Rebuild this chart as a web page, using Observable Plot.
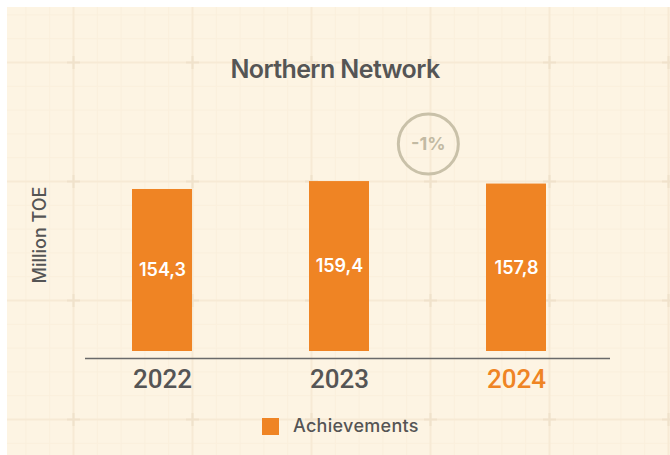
<!DOCTYPE html>
<html>
<head>
<meta charset="utf-8">
<script src="https://cdn.jsdelivr.net/npm/d3@7"></script>
<script src="https://cdn.jsdelivr.net/npm/@observablehq/plot@0.6"></script>
<style>
  html, body { margin: 0; padding: 0; background: #ffffff; }
  #wrap { position: relative; width: 670px; height: 455px; overflow: hidden; }
  #panel {
    position: absolute; left: 7px; top: 7px; right: 0; bottom: 0;
    background-color: #fdf4e3;
    background-image: url("data:image/svg+xml;utf8,<svg xmlns='http://www.w3.org/2000/svg' width='119' height='119'><g stroke='%23faefdc' stroke-width='1'><line x1='11.9' y1='0' x2='11.9' y2='119'/><line x1='35.7' y1='0' x2='35.7' y2='119'/><line x1='83.3' y1='0' x2='83.3' y2='119'/><line x1='107.1' y1='0' x2='107.1' y2='119'/><line y1='11.9' x1='0' y2='11.9' x2='119'/><line y1='35.7' x1='0' y2='35.7' x2='119'/><line y1='83.3' x1='0' y2='83.3' x2='119'/><line y1='107.1' x1='0' y2='107.1' x2='119'/></g><g stroke='%23f7ead5' stroke-width='2'><line x1='59.5' y1='0' x2='59.5' y2='119'/><line y1='59.5' x1='0' y2='59.5' x2='119'/></g><g stroke='%23f0e2cb' stroke-width='2'><line x1='53' y1='59.5' x2='66' y2='59.5'/><line x1='59.5' y1='53' x2='59.5' y2='66'/></g></svg>");
    background-position: 6.5px -4.5px;
  }
  #title {
    position: absolute; left: 0; top: 54px; width: 670px; text-align: center;
    font-family: Inter, "DejaVu Sans", sans-serif; font-weight: 600; font-size: 25px;
    line-height: 30px; color: #555555; letter-spacing: -0.6px; margin: 0;
  }
  #chart { position: absolute; left: 0; top: 0; }
  #legend {
    position: absolute; left: 262px; top: 413px; display: flex; align-items: center;
    font-family: Inter, "DejaVu Sans", sans-serif; font-weight: 500; font-size: 18px;
    color: #555555; letter-spacing: 0.3px; line-height: 26px;
  }
  #legend .sw { width: 17px; height: 17px; background: #ef8424; margin-right: 14px; }
</style>
</head>
<body>
<div id="wrap">
  <div id="panel"></div>
  <div id="chart"></div>
  <h2 id="title">Northern Network</h2>
  <div id="legend"><span class="sw"></span><span id="legendText"></span></div>
</div>
<script>
const title = "Northern Network";
const yLabel = "Million TOE";
const seriesName = "Achievements";
const years = ["2022", "2023", "2024"];
const values = [154.3, 159.4, 157.8];
const highlightYear = "2024";
const yMin = 50;

const ORANGE = "#ef8424";
const GRAY = "#555555";

const data = years.map((year, i) => ({year, value: values[i]}));
const fmt = v => v.toFixed(1).replace(".", ",");
const lastTwo = data.slice(-2);
const change = (lastTwo[1].value - lastTwo[0].value) / lastTwo[0].value * 100;
const changeLabel = (change > 0 ? "+" : "") + Math.round(change) + "%";

document.getElementById("title").textContent = title;
document.getElementById("legendText").textContent = seriesName;

const W = 670, H = 455;
const mL = 72, mR = 65, mT = 118, mB = 104;
const step = (W - mL - mR) / 3;

const chart = Plot.plot({
  width: W,
  height: H,
  marginLeft: mL,
  marginRight: mR,
  marginTop: mT,
  marginBottom: mB,
  style: {background: "transparent", overflow: "visible"},
  x: {domain: years, paddingInner: 0.662, paddingOuter: 0.331, axis: null},
  y: {domain: [yMin, 200], axis: null},
  color: {type: "identity"},
  marks: [
    Plot.barY(data, {x: "year", y1: yMin, y2: "value", fill: ORANGE}),
    Plot.ruleY([yMin], {dy: 7, insetLeft: 13, insetRight: -5, stroke: "#6a6a6a", strokeWidth: 1.6}),
    Plot.text(data, {
      x: "year", y: d => (yMin + d.value) / 2, text: d => fmt(d.value),
      fill: "#ffffff", fontSize: 18, fontWeight: 600, fontFamily: "Inter, sans-serif", lineAnchor: "middle"
    }),
    Plot.text(data, {
      x: "year", frameAnchor: "bottom", dy: 36, lineAnchor: "bottom", text: "year",
      fill: d => d.year === highlightYear ? ORANGE : GRAY,
      fontSize: 26, fontWeight: 500, fontFamily: "Roboto, Inter, sans-serif"
    }),
    Plot.dot([changeLabel], {
      x: () => lastTwo[0].year, frameAnchor: "top", dy: 25.5, dx: step / 2,
      r: 30, stroke: "#c9c1a9", strokeWidth: 3, fill: "none"
    }),
    Plot.text([changeLabel], {
      x: () => lastTwo[0].year, frameAnchor: "top", dy: 25.5, dx: step / 2,
      text: d => d, fill: "#c2baa3", fontSize: 18, fontWeight: 700, fontFamily: "Inter, sans-serif", lineAnchor: "middle"
    }),
    Plot.text([yLabel], {
      frameAnchor: "left", dx: -32, rotate: -90, text: d => d, textAnchor: "middle",
      fill: GRAY, fontSize: 18, fontWeight: 500, fontFamily: "Inter, sans-serif", lineAnchor: "middle"
    })
  ]
});
document.getElementById("chart").appendChild(chart);
</script>
</body>
</html>
